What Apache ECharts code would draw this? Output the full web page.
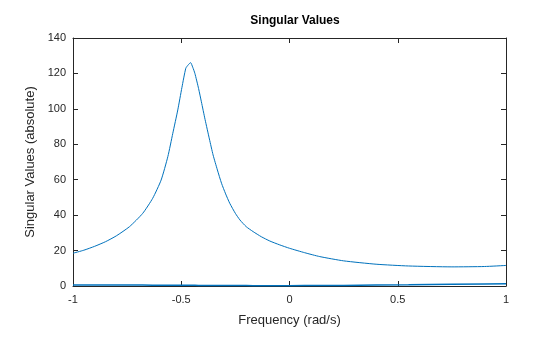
<!DOCTYPE html>
<html><head><meta charset="utf-8">
<script src="https://cdn.jsdelivr.net/npm/echarts@6/dist/echarts.min.js"></script>
<style>html,body{margin:0;padding:0;background:#fff}#c{width:560px;height:337px}</style>
</head><body><div id="c"></div>
<script>
const freq = [-1, -0.95, -0.9, -0.85, -0.8, -0.739, -0.678, -0.632, -0.593, -0.562, -0.539, -0.516, -0.497, -0.479, -0.468, -0.457, -0.447, -0.437, -0.42, -0.407, -0.39, -0.37, -0.353, -0.333, -0.314, -0.295, -0.276, -0.25, -0.229, -0.2, -0.168, -0.13, -0.091, -0.045, 0, 0.07, 0.14, 0.25, 0.4, 0.55, 0.75, 0.9, 1];
const sv1 = [18.5, 20.2, 22.4, 25, 28.3, 33.5, 41, 49.5, 59.8, 73, 86.2, 99.4, 112, 122.9, 124.8, 126.1, 123.5, 120, 111.5, 104, 94, 83, 74, 65.5, 58, 52, 46.7, 41, 37.3, 33.5, 30.7, 27.8, 25.4, 23.2, 21.3, 18.8, 16.6, 14.2, 12.3, 11.3, 10.8, 11, 11.6];
const sv2 = [0.5, 0.5, 0.5, 0.5, 0.5, 0.5, 0.5, 0.45, 0.45, 0.45, 0.45, 0.4, 0.4, 0.4, 0.4, 0.4, 0.4, 0.4, 0.35, 0.35, 0.35, 0.35, 0.3, 0.3, 0.3, 0.3, 0.3, 0.25, 0.25, 0.25, 0.2, 0.2, 0.2, 0.2, 0.2, 0.25, 0.25, 0.35, 0.5, 0.65, 0.95, 1.15, 1.3];
const xTicks = [-1, -0.5, 0, 0.5, 1];
const yTicks = [0, 20, 40, 60, 80, 100, 120, 140];

const chart = echarts.init(document.getElementById('c'), null, {renderer: 'canvas'});
const axisCol = '#262626';
const font = 'Liberation Sans, Arial, Helvetica, sans-serif';
const mkPairs = ys => freq.map((x, i) => [x, ys[i]]);
const baseX = {type: 'value', min: xTicks[0], max: xTicks[xTicks.length - 1], interval: 0.5,
  axisLine: {show: true, onZero: false, lineStyle: {color: axisCol, width: 1}},
  axisTick: {show: true, inside: true, length: 5, lineStyle: {color: axisCol}},
  splitLine: {show: false}};
const baseY = {type: 'value', min: yTicks[0], max: yTicks[yTicks.length - 1], interval: 20,
  axisLine: {show: true, onZero: false, lineStyle: {color: axisCol, width: 1}},
  axisTick: {show: true, inside: true, length: 5, lineStyle: {color: axisCol}},
  splitLine: {show: false}};
chart.setOption({
  animation: false,
  backgroundColor: '#fff',
  title: {text: 'Singular Values', left: 290, textAlign: 'center', top: 10,
    textStyle: {fontFamily: font, fontSize: 12, fontWeight: 'bold', color: '#000'}},
  grid: {left: 73, right: 54, top: 38, bottom: 51},
  xAxis: [
    Object.assign({}, baseX, {position: 'bottom', name: 'Frequency (rad/s)', nameLocation: 'middle', nameGap: 28,
      nameTextStyle: {fontFamily: font, fontSize: 13, color: axisCol},
      axisLabel: {show: true, margin: 8, fontFamily: font, fontSize: 11, color: axisCol,
        formatter: v => String(v)}}),
    Object.assign({}, baseX, {position: 'top', axisLabel: {show: false}})
  ],
  yAxis: [
    Object.assign({}, baseY, {position: 'left', name: 'Singular Values (absolute)', nameLocation: 'middle', nameGap: 34,
      nameTextStyle: {fontFamily: font, fontSize: 13, color: axisCol},
      axisLabel: {show: true, margin: 7, fontFamily: font, fontSize: 11, color: axisCol}}),
    Object.assign({}, baseY, {position: 'right', axisLabel: {show: false}})
  ],
  series: [
    {type: 'line', data: mkPairs(sv1), showSymbol: false, symbol: 'none', smooth: 0.2, lineStyle: {color: '#0072BD', width: 1}, xAxisIndex: 0, yAxisIndex: 0},
    {type: 'line', data: mkPairs(sv2), showSymbol: false, symbol: 'none', lineStyle: {color: '#0072BD', width: 1.5}, xAxisIndex: 0, yAxisIndex: 0}
  ]
});
</script></body></html>
